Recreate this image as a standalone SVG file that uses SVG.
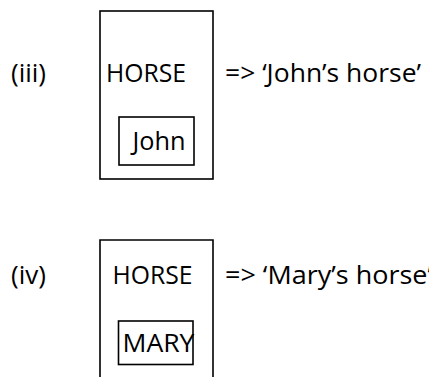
<svg xmlns="http://www.w3.org/2000/svg" width="429" height="377" viewBox="0 0 429 377">
<style>
.t{font-family:"Open Sans","Noto Sans","Liberation Sans",sans-serif;font-size:26px;fill:#000}
.b{fill:none;stroke:#000;stroke-width:1.6}
</style>
<rect width="429" height="377" fill="#fff"/>
<g id="label-iii"><text class="t" x="11" y="81.5">(iii)</text></g>
<g id="node-horse-iii">
<rect class="b" x="100" y="11" width="113" height="168"/>
<text class="t" x="106" y="81.5" textLength="80" lengthAdjust="spacingAndGlyphs">HORSE</text>
</g>
<g id="node-john">
<rect class="b" x="119" y="117" width="75" height="48"/>
<text class="t" x="132.5" y="149.5" textLength="53" lengthAdjust="spacingAndGlyphs">John</text>
</g>
<g id="gloss-iii"><text class="t" x="225" y="81.5" textLength="196" lengthAdjust="spacingAndGlyphs">=&gt; ‘John’s horse’</text></g>
<g id="label-iv"><text class="t" x="11" y="284">(iv)</text></g>
<g id="node-horse-iv">
<path class="b" d="M100,378 V240 H213 V378"/>
<text class="t" x="112.5" y="284" textLength="80" lengthAdjust="spacingAndGlyphs">HORSE</text>
</g>
<g id="node-mary">
<rect class="b" x="118.5" y="321" width="74.5" height="43.5"/>
<text class="t" x="122.5" y="351.7" textLength="72" lengthAdjust="spacingAndGlyphs">MARY</text>
</g>
<g id="gloss-iv"><text class="t" x="225" y="284" textLength="207" lengthAdjust="spacingAndGlyphs">=&gt; ‘Mary’s horse’</text></g>
<g id="connectors"></g>
</svg>
